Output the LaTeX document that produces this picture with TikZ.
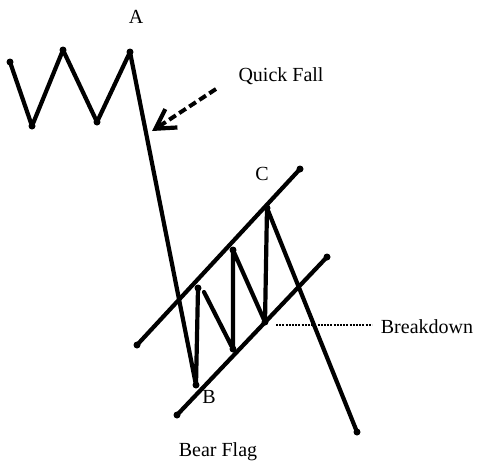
\documentclass[tikz,border=0pt]{standalone}
\usepackage{fontspec}
\setmainfont{Liberation Serif}
\usetikzlibrary{arrows.meta}
\begin{document}
\begin{tikzpicture}[x=1pt,y=-1pt,
  price/.style={line width=4.2pt,line join=round,line cap=round},
  dotpt/.style={circle,fill=black,inner sep=0pt,minimum size=7pt},
  lbl/.style={font=\fontsize{20}{22}\selectfont,inner sep=0pt}]
\useasboundingbox (0,0) rectangle (480,464);
% zigzag points
\coordinate (p1) at (10,62);
\coordinate (p2) at (32,126);
\coordinate (p3) at (63,50);
\coordinate (p4) at (97,122);
\coordinate (pA) at (130,52);
\coordinate (pB) at (196,385);
\coordinate (f1) at (198,288);
\coordinate (f1b) at (204,292);
\coordinate (f2) at (233,349);
\coordinate (f3) at (233,250);
\coordinate (f4) at (265,322);
\coordinate (f5) at (267,208);
\coordinate (pE) at (357,432);
% channel
\coordinate (u1) at (137,345);
\coordinate (u2) at (300,169);
\coordinate (l1) at (177,415);
\coordinate (l2) at (327,257);
\draw[price] (p1) -- (p2) -- (p3) -- (p4) -- (pA) -- (pB) -- (f1);
\draw[price] (f1b) -- (f2) -- (f3) -- (f4) -- (f5) -- (pE);
\draw[price] (u1) -- (u2);
\draw[price] (l1) -- (l2);
\foreach \c in {p1,p2,p3,p4,pA,pB,f1,f2,f3,f4,f5,pE,u1,u2,l1,l2}
  \node[dotpt] (d\c) at (\c) {};
% labels
\node[lbl] (A) at (136,17) {A};
\node[lbl] (C) at (262,174) {C};
\node[lbl] (B) at (209,397) {B};
\node[lbl] (quick) at (281,76) {Quick Fall};
\node[lbl] (bd) at (427,327) {Breakdown};
\node[lbl] (bf) at (218,452) {Bear Flag};
% arrows
\coordinate (qs) at (216,89);
\coordinate (qe) at (152,131);
\draw[line width=4pt,dash pattern=on 8pt off 4pt,-{Straight Barb[width=22pt,length=19pt,line width=4.2pt]}] (qs) -- (qe);
\coordinate (bs) at (276,325);
\coordinate (be) at (372,325);
\draw[line width=2.8pt,dash pattern=on 2pt off 1.2pt] (bs) -- (be);
\end{tikzpicture}
\end{document}
